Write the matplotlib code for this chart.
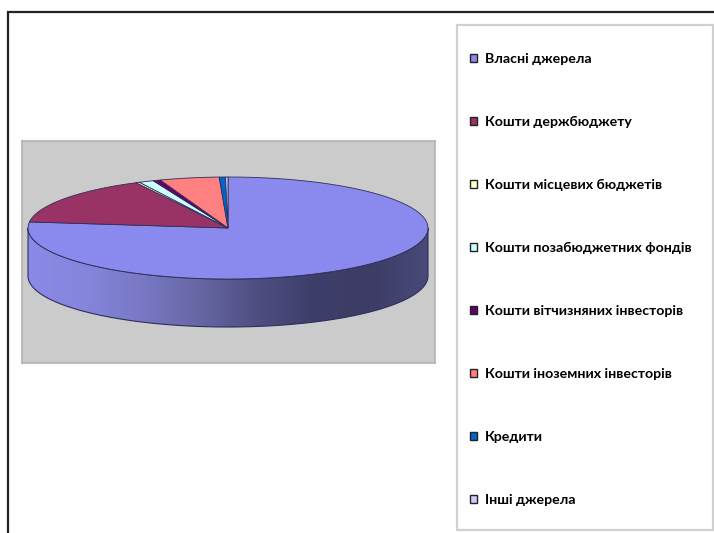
import numpy as np
import matplotlib
matplotlib.use("Agg")
import matplotlib.pyplot as plt
from matplotlib.patches import Rectangle, Patch, Polygon
from matplotlib.colors import LinearSegmentedColormap

# data (shares, %)
labels = ["Власні джерела", "Кошти держбюджету", "Кошти місцевих бюджетів",
          "Кошти позабюджетних фондів", "Кошти вітчизняних інвесторів",
          "Кошти іноземних інвесторів", "Кредити", "Інші джерела"]
values = [76.9, 15.5, 0.3, 1.2, 0.6, 4.8, 0.5, 0.2]
colors = ["#8a8aee", "#993366", "#ffffcc", "#ccffff", "#660066",
          "#ff8080", "#0066cc", "#ccccff"]

W, H = 714, 533
fig = plt.figure(figsize=(W / 100, H / 100), dpi=100)

# outer frame (top + left lines)
fig.add_artist(Rectangle((8 / W, -0.1), 1.2, 1 - 12 / H + 0.1, transform=fig.transFigure,
                         fill=False, ec="#222222", lw=1.6))

# grey plot area
ax = fig.add_axes([22 / W, 1 - 363 / H, 413 / W, 222 / H])
ax.set_facecolor("#cbcbcb")
for s in ax.spines.values():
    s.set_color("#b3b3b3")
    s.set_linewidth(1.2)
ax.set_xticks([])
ax.set_yticks([])
ax.set_xlim(-1.03, 1.035)
ax.set_ylim(-0.675, 0.435)

k = 0.255   # ellipse squash
depth = 0.24

fracs = np.array(values) / np.sum(values)
cum = np.concatenate([[0], np.cumsum(fracs)])
starts = 90 - cum[:-1] * 360
ends = 90 - cum[1:] * 360

# side walls (front half only)
cmap = LinearSegmentedColormap.from_list(
    "side", ["#8a8ae8", "#8585dc", "#7878c4", "#6666a4", "#4e4e82",
             "#3e3e6a", "#3c3c66", "#4a4a7a"])
for st, en, c in zip(starts, ends, colors):
    lo, hi = en, st
    # map to front interval [-180, 0]
    for shift in (0, -360, 360):
        a0 = max(lo + shift, -180)
        a1 = min(hi + shift, 0)
        if a1 > a0:
            t = np.radians(np.linspace(a0, a1, 200))
            xs = np.concatenate([np.cos(t), np.cos(t[::-1])])
            ys = np.concatenate([k * np.sin(t), k * np.sin(t[::-1]) - depth])
            poly = Polygon(np.column_stack([xs, ys]), closed=True, fc="none",
                           ec="#2e2e5a", lw=0.8, zorder=2)
            ax.add_patch(poly)
            grad = np.linspace(0, 1, 256).reshape(1, -1)
            im = ax.imshow(grad, cmap=cmap, aspect="auto",
                           extent=[-1, 1, -k - depth, 0], zorder=1.5)
            im.set_clip_path(poly)

# top wedges
for st, en, c in zip(starts, ends, colors):
    t = np.radians(np.linspace(st, en, 200))
    xs = np.concatenate([[0], np.cos(t), [0]])
    ys = np.concatenate([[0], k * np.sin(t), [0]])
    ax.fill(xs, ys, fc=c, ec="#2e2e5a", lw=0.6, zorder=3)

# legend box
fig.add_artist(Rectangle((457 / W, 1 - 530 / H), 256 / W, 505 / H,
                         transform=fig.transFigure, fill=False, ec="#d0d0d0", lw=1.6))
handles = [Patch(fc=c, ec="#222222", lw=1.0) for c in colors]
leg = fig.legend(handles, labels, loc="upper left",
                 bbox_to_anchor=(470 / W, 1 - 53 / H), frameon=False,
                 prop={"family": ["Lato", "DejaVu Sans"], "weight": "bold", "size": 10.2},
                 handlelength=0.5, handleheight=0.5, handletextpad=0.55,
                 labelspacing=3.6, borderaxespad=0, borderpad=0)

fig.savefig("out.png", dpi=100)
